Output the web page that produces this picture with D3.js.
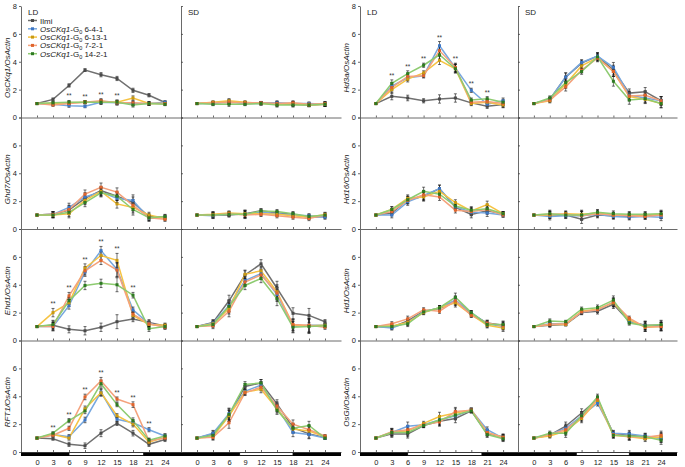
<!DOCTYPE html>
<html>
<head>
<meta charset="utf-8">
<script src="https://cdn.jsdelivr.net/npm/d3@7"></script>
<style>
body { margin: 0; background: #fff; }
svg { font-family: Arial, "Liberation Sans", sans-serif; }
</style>
</head>
<body>
<div id="chart"></div>
<script>
var hours = [0, 3, 6, 9, 12, 15, 18, 21, 24];
var lineNames = ["Ilmi", "6-4-1", "6-13-1", "7-2-1", "14-2-1"];
var lineColors = ["#707070", "#76a7df", "#f6c343", "#f4a27c", "#8dcb70"];
var dotColors = ["#4a4a4a", "#3d76c4", "#c99a12", "#e0642c", "#2e7a22"];
var yTicks = [0, 2, 4, 6, 8];

// relative expression, one row per line: Ilmi, 6-4-1, 6-13-1, 7-2-1, 14-2-1
var osckq1LD = [
    [1, 1.3, 2.3, 3.4, 3.07, 2.8, 1.95, 1.6, 1.08],
    [1, 0.95, 0.85, 0.8, 1.1, 1.05, 1.0, 1.0, 1.1],
    [1, 1.0, 1.05, 1.1, 1.15, 1.1, 1.4, 1.0, 1.0],
    [1, 0.9, 1.0, 1.1, 1.2, 1.05, 1.05, 1.0, 1.0],
    [1, 1.05, 1.1, 1.1, 1.1, 1.1, 0.9, 1.0, 0.95]];
var osckq1SD = [
    [1, 1.05, 1.1, 1.05, 1.05, 1.0, 0.95, 0.9, 0.95],
    [1, 1.0, 1.15, 1.0, 1.0, 1.05, 1.0, 1.0, 0.95],
    [1, 1.1, 1.2, 1.1, 1.0, 0.95, 1.0, 0.9, 0.95],
    [1, 1.05, 1.1, 1.05, 1.05, 1.0, 1.05, 0.95, 1.0],
    [1, 0.95, 0.95, 0.95, 1.0, 0.9, 0.9, 0.9, 0.95]];
var hd3aLD = [
    [1, 1.52, 1.4, 1.2, 1.33, 1.4, 1.05, 0.8, 0.93],
    [1, 2.25, 2.85, 3.0, 5.15, 3.55, 1.95, 0.95, 1.2],
    [1, 2.0, 2.75, 3.2, 4.1, 3.5, 1.0, 1.1, 0.9],
    [1, 2.15, 2.95, 3.0, 4.8, 3.6, 1.1, 1.15, 1.0],
    [1, 2.45, 3.15, 3.75, 4.5, 3.5, 1.25, 1.35, 1.1]];
var hd3aSD = [
    [1, 1.3, 2.9, 3.9, 4.4, 3.4, 1.75, 1.85, 1.2],
    [1, 1.3, 2.9, 3.95, 4.4, 3.6, 1.6, 1.4, 1.2],
    [1, 1.2, 2.4, 3.7, 4.3, 3.3, 1.5, 1.3, 1.0],
    [1, 1.25, 2.2, 3.4, 4.25, 3.3, 1.55, 1.6, 1.2],
    [1, 1.4, 2.5, 3.3, 4.35, 2.6, 1.25, 1.35, 1.0]];
var ghd7LD = [
    [1, 1.05, 1.35, 2.2, 2.75, 2.35, 1.9, 0.9, 0.85],
    [1, 1.05, 1.55, 2.3, 2.65, 2.2, 2.05, 0.75, 0.85],
    [1, 1.0, 1.1, 2.05, 2.7, 1.8, 1.55, 1.0, 0.75],
    [1, 1.05, 1.4, 2.5, 3.0, 2.65, 1.7, 0.8, 0.7],
    [1, 1.0, 1.2, 1.9, 2.6, 2.35, 1.4, 0.8, 0.9]];
var ghd7SD = [
    [1, 1.0, 1.0, 1.1, 1.3, 1.15, 1.05, 0.85, 0.9],
    [1, 0.95, 1.1, 1.05, 1.2, 1.1, 1.0, 0.95, 0.85],
    [1, 1.05, 1.15, 1.1, 1.1, 1.05, 0.95, 0.85, 1.05],
    [1, 1.0, 1.1, 1.0, 1.05, 0.95, 0.85, 0.75, 1.0],
    [1, 1.0, 1.05, 1.05, 1.3, 1.25, 1.1, 0.9, 1.0]];
var hd16LD = [
    [1, 1.15, 2.1, 2.35, 2.9, 1.55, 1.05, 1.3, 1.1],
    [1, 1.0, 1.95, 2.4, 2.9, 1.6, 1.2, 1.15, 1.0],
    [1, 1.4, 2.2, 2.3, 2.7, 1.9, 1.3, 1.75, 1.1],
    [1, 1.25, 2.05, 2.45, 2.3, 1.35, 1.25, 1.4, 1.0],
    [1, 1.4, 2.1, 2.7, 2.5, 1.65, 1.35, 1.45, 1.1]];
var hd16SD = [
    [1, 1.0, 1.0, 0.7, 1.0, 0.95, 0.9, 0.95, 1.0],
    [1, 0.9, 0.95, 0.95, 1.05, 0.9, 0.85, 0.9, 0.85],
    [1, 1.0, 1.1, 1.05, 1.15, 1.0, 1.0, 1.0, 1.05],
    [1, 1.05, 1.05, 0.95, 1.1, 1.0, 0.95, 0.9, 1.0],
    [1, 1.1, 1.0, 1.0, 1.2, 1.1, 1.05, 1.05, 1.1]];
var ehd1LD = [
    [1, 1.1, 0.8, 0.7, 0.95, 1.35, 1.55, 1.3, 1.05],
    [1, 1.0, 2.5, 4.9, 6.45, 5.1, 2.2, 1.2, 1.0],
    [1, 2.0, 2.7, 5.2, 6.1, 5.75, 1.8, 1.15, 1.1],
    [1, 1.0, 3.2, 5.0, 5.75, 5.05, 1.9, 1.2, 0.95],
    [1, 1.15, 2.85, 3.95, 4.1, 4.0, 3.25, 0.85, 1.0]];
var ehd1SD = [
    [1, 1.3, 2.85, 4.7, 5.5, 3.75, 1.95, 1.8, 1.35],
    [1, 1.25, 2.5, 4.3, 4.8, 3.3, 1.0, 1.1, 1.1],
    [1, 1.2, 2.3, 4.75, 5.0, 3.5, 1.1, 1.05, 1.1],
    [1, 1.05, 2.1, 4.2, 4.7, 3.4, 1.15, 1.1, 0.95],
    [1, 1.15, 2.45, 3.95, 4.45, 3.0, 0.95, 1.0, 1.05]];
var hd1LD = [
    [1, 0.95, 1.4, 2.1, 2.3, 2.8, 1.9, 1.25, 1.1],
    [1, 0.9, 1.3, 2.05, 2.35, 2.9, 2.0, 1.2, 1.0],
    [1, 1.05, 1.3, 2.0, 2.35, 2.7, 1.85, 1.1, 0.9],
    [1, 1.2, 1.55, 2.2, 2.1, 2.85, 1.8, 1.25, 1.05],
    [1, 1.0, 1.2, 2.05, 2.35, 3.1, 2.0, 1.15, 1.15]];
var hd1SD = [
    [1, 1.1, 1.15, 2.0, 2.1, 2.6, 1.35, 1.1, 1.1],
    [1, 1.2, 1.2, 2.05, 2.2, 2.75, 1.4, 1.05, 1.0],
    [1, 1.15, 1.15, 2.1, 2.25, 2.7, 1.5, 0.95, 1.0],
    [1, 1.15, 1.2, 2.05, 2.2, 2.75, 1.6, 0.95, 1.0],
    [1, 1.4, 1.35, 2.25, 2.35, 2.9, 1.25, 1.05, 1.15]];
var rft1LD = [
    [1, 0.95, 0.55, 0.45, 1.35, 2.05, 1.35, 0.55, 0.9],
    [1, 1.25, 1.1, 2.3, 4.3, 2.35, 2.1, 1.6, 1.15],
    [1, 1.25, 1.0, 3.1, 4.25, 2.6, 2.0, 0.7, 1.05],
    [1, 1.2, 1.7, 3.95, 5.1, 3.8, 3.4, 0.8, 1.0],
    [1, 1.35, 2.25, 2.95, 4.9, 3.4, 2.25, 0.85, 1.15]];
var rft1SD = [
    [1, 1.3, 2.6, 4.7, 4.95, 3.45, 1.75, 1.3, 1.05],
    [1, 1.35, 2.75, 4.35, 4.8, 3.2, 1.4, 1.25, 1.0],
    [1, 1.1, 2.6, 4.3, 4.5, 3.1, 1.65, 1.5, 1.1],
    [1, 1.05, 2.1, 4.25, 4.65, 3.3, 2.0, 1.6, 1.15],
    [1, 1.2, 2.7, 4.85, 4.95, 3.0, 1.7, 1.9, 1.0]];
var osgiLD = [
    [1, 1.3, 1.3, 1.9, 2.2, 2.4, 2.95, 1.3, 1.1],
    [1, 1.4, 1.85, 1.95, 2.3, 2.6, 3.0, 1.6, 1.0],
    [1, 1.4, 1.5, 2.05, 2.55, 2.8, 3.0, 1.4, 1.05],
    [1, 1.45, 1.6, 1.95, 2.15, 2.9, 3.0, 1.4, 1.05],
    [1, 1.4, 1.4, 1.9, 2.3, 2.65, 2.95, 1.25, 0.95]];
var osgiSD = [
    [1, 1.2, 1.85, 2.8, 3.8, 1.3, 1.2, 1.1, 1.0],
    [1, 1.25, 1.7, 2.6, 3.5, 1.35, 1.3, 1.15, 1.0],
    [1, 1.15, 1.5, 2.4, 3.7, 1.2, 1.1, 0.95, 1.1],
    [1, 1.25, 1.6, 2.5, 3.8, 1.25, 1.1, 1.05, 1.2],
    [1, 1.35, 1.35, 2.6, 3.95, 1.2, 1.15, 1.1, 0.85]];

// standard error per time point
var osckq1LDErr = [0.05, 0.1, 0.12, 0.1, 0.15, 0.15, 0.15, 0.12, 0.1];
var osckq1SDErr = [0.05, 0.1, 0.15, 0.1, 0.1, 0.15, 0.15, 0.12, 0.15];
var hd3aLDErr = [0.05, 0.25, 0.2, 0.15, 0.3, 0.3, 0.15, 0.15, 0.2];
var hd3aSDErr = [0.05, 0.15, 0.3, 0.2, 0.25, 0.35, 0.3, 0.3, 0.3];
var ghd7LDErr = [0.05, 0.2, 0.3, 0.3, 0.3, 0.3, 0.4, 0.2, 0.15];
var ghd7SDErr = [0.05, 0.2, 0.15, 0.25, 0.15, 0.15, 0.15, 0.15, 0.15];
var hd16LDErr = [0.05, 0.2, 0.25, 0.3, 0.25, 0.2, 0.25, 0.25, 0.15];
var hd16SDErr = [0.05, 0.25, 0.2, 0.3, 0.2, 0.2, 0.2, 0.2, 0.25];
var ehd1LDErr = [0.05, 0.3, 0.25, 0.3, 0.3, 0.5, 0.2, 0.2, 0.15];
var ehd1SDErr = [0.05, 0.2, 0.4, 0.3, 0.3, 0.5, 0.4, 0.5, 0.15];
var hd1LDErr = [0.05, 0.15, 0.2, 0.15, 0.15, 0.3, 0.15, 0.2, 0.25];
var hd1SDErr = [0.05, 0.15, 0.1, 0.15, 0.2, 0.3, 0.15, 0.3, 0.3];
var rft1LDErr = [0.05, 0.1, 0.15, 0.2, 0.25, 0.15, 0.2, 0.15, 0.15];
var rft1SDErr = [0.05, 0.2, 0.4, 0.2, 0.25, 0.3, 0.3, 0.3, 0.1];
var osgiLDErr = [0.05, 0.25, 0.3, 0.15, 0.3, 0.3, 0.15, 0.2, 0.2];
var osgiSDErr = [0.05, 0.15, 0.3, 0.3, 0.2, 0.2, 0.25, 0.2, 0.3];

// time points marked ** (transgenic vs Ilmi)
var osckq1Stars = [6, 9, 12, 15];
var hd3aStars = [3, 6, 9, 12, 15, 18, 21];
var ehd1Stars = [3, 6, 9, 12, 15, 18];
var rft1Stars = [3, 6, 9, 12, 15, 18, 21];

// light period (h) for the bottom bar
var lightLD = [6, 20];
var lightSD = [8, 18];

var W = 685, H = 467;
var top0 = 6, rowH = 111.5;
var groups = [
    {ld: 21, sd: 181, w: 160, labelX: 7},
    {ld: 360, sd: 518, w: 159, labelX: 346}
];

var panels = [
    {gene: "OsCKq1", g: 0, row: 0, ld: osckq1LD, sd: osckq1SD, ldErr: osckq1LDErr, sdErr: osckq1SDErr, stars: osckq1Stars},
    {gene: "Ghd7", g: 0, row: 1, ld: ghd7LD, sd: ghd7SD, ldErr: ghd7LDErr, sdErr: ghd7SDErr, stars: []},
    {gene: "Ehd1", g: 0, row: 2, ld: ehd1LD, sd: ehd1SD, ldErr: ehd1LDErr, sdErr: ehd1SDErr, stars: ehd1Stars},
    {gene: "RFT1", g: 0, row: 3, ld: rft1LD, sd: rft1SD, ldErr: rft1LDErr, sdErr: rft1SDErr, stars: rft1Stars},
    {gene: "Hd3a", g: 1, row: 0, ld: hd3aLD, sd: hd3aSD, ldErr: hd3aLDErr, sdErr: hd3aSDErr, stars: hd3aStars},
    {gene: "Hd16", g: 1, row: 1, ld: hd16LD, sd: hd16SD, ldErr: hd16LDErr, sdErr: hd16SDErr, stars: []},
    {gene: "Hd1", g: 1, row: 2, ld: hd1LD, sd: hd1SD, ldErr: hd1LDErr, sdErr: hd1SDErr, stars: []},
    {gene: "OsGI", g: 1, row: 3, ld: osgiLD, sd: osgiSD, ldErr: osgiLDErr, sdErr: osgiSDErr, stars: []}
];

var svg = d3.select("#chart").append("svg")
    .attr("width", W)
    .attr("height", H);

function drawPanel(p, isLD) {
    var grp = groups[p.g];
    var x0 = isLD ? grp.ld : grp.sd;
    var zero = top0 + (p.row + 1) * rowH;
    var data = isLD ? p.ld : p.sd;
    var err = isLD ? p.ldErr : p.sdErr;
    var bottom = p.row === 3;

    var x = d3.scaleLinear().domain([-3, 27]).range([x0, x0 + grp.w]);
    var y = d3.scaleLinear().domain([0, 8]).range([zero, zero - rowH]);
    var g = svg.append("g");

    if (bottom) {
        var light = isLD ? lightLD : lightSD;
        g.append("rect")
            .attr("x", x0).attr("y", zero)
            .attr("width", grp.w).attr("height", 4)
            .attr("fill", "#000");
        g.append("rect")
            .attr("x", x(light[0])).attr("y", zero + 0.5)
            .attr("width", x(light[1]) - x(light[0])).attr("height", 3)
            .attr("fill", "#fff").attr("stroke", "#000").attr("stroke-width", 0.8);
        g.append("g")
            .attr("transform", "translate(0," + (zero + 4) + ")")
            .call(d3.axisBottom(x).tickValues(hours).tickSize(0).tickPadding(4))
            .call(function (s) { s.select(".domain").remove(); })
            .selectAll("text").attr("font-size", 7.5).attr("fill", "#222");
    }

    var xa = g.append("g")
        .attr("transform", "translate(0," + zero + ")")
        .call(d3.axisTop(x).tickValues(hours).tickSize(2).tickSizeOuter(0).tickFormat(""));
    xa.selectAll("path, line").attr("stroke", "#444").attr("stroke-width", 0.8);

    var ya;
    if (isLD) {
        // the top "8" is only labelled in the first row, lower rows share the line with the "0" above
        ya = g.append("g")
            .attr("transform", "translate(" + x0 + ",0)")
            .call(d3.axisLeft(y).tickValues(yTicks).tickSize(2).tickSizeOuter(0).tickPadding(2)
                .tickFormat(function (d) { return (d === 8 && p.row > 0) ? "" : d; }));
        ya.selectAll("text").attr("font-size", 7.5).attr("fill", "#222");
    } else {
        ya = g.append("g")
            .attr("transform", "translate(" + x0 + ",0)")
            .call(d3.axisRight(y).tickValues(yTicks).tickSize(2).tickSizeOuter(0).tickFormat(""));
    }
    ya.selectAll("path, line").attr("stroke", "#444").attr("stroke-width", 0.8);

    var line = d3.line()
        .x(function (d, i) { return x(hours[i]); })
        .y(function (d) { return y(d); });

    data.forEach(function (vals, k) {
        g.append("path")
            .attr("d", line(vals))
            .attr("fill", "none")
            .attr("stroke", lineColors[k])
            .attr("stroke-width", 1.5);
    });

    data.forEach(function (vals, k) {
        var eb = g.append("g").attr("stroke", "#111").attr("stroke-width", 0.6);
        vals.forEach(function (v, i) {
            if (i === 0) return;
            var cx = x(hours[i]);
            eb.append("line").attr("x1", cx).attr("x2", cx)
                .attr("y1", y(v - err[i])).attr("y2", y(v + err[i]));
            eb.append("line").attr("x1", cx - 1.5).attr("x2", cx + 1.5)
                .attr("y1", y(v + err[i])).attr("y2", y(v + err[i]));
            eb.append("line").attr("x1", cx - 1.5).attr("x2", cx + 1.5)
                .attr("y1", y(v - err[i])).attr("y2", y(v - err[i]));
        });
    });

    data.forEach(function (vals, k) {
        g.selectAll(null)
            .data(vals)
            .enter()
            .append("rect")
            .attr("x", function (d, i) { return x(hours[i]) - 1.5; })
            .attr("y", function (d) { return y(d) - 1.5; })
            .attr("width", 3)
            .attr("height", 3)
            .attr("fill", dotColors[k]);
    });

    if (isLD) {
        p.stars.forEach(function (t) {
            var i = hours.indexOf(t);
            var top = d3.max(data.slice(1), function (vals) { return vals[i]; }) + err[i];
            g.append("text")
                .attr("x", x(t))
                .attr("y", y(top) - 2)
                .attr("text-anchor", "middle")
                .attr("font-size", 6.5)
                .attr("fill", "#333")
                .text("**");
        });
    }

    if (p.row === 0) {
        g.append("text")
            .attr("x", x0 + 7)
            .attr("y", zero - rowH + 9)
            .attr("font-size", 8)
            .attr("fill", "#222")
            .text(isLD ? "LD" : "SD");
    }
}

panels.forEach(function (p) {
    drawPanel(p, true);
    drawPanel(p, false);
    var cy = top0 + p.row * rowH + rowH / 2 + 6;
    svg.append("text")
        .attr("transform", "translate(" + (groups[p.g].labelX + 3) + "," + cy + ") rotate(-90)")
        .attr("text-anchor", "middle")
        .attr("font-size", 8)
        .attr("font-style", "italic")
        .attr("fill", "#222")
        .text(p.gene + "/OsActin");
});

// legend
var legend = svg.append("g").attr("transform", "translate(28,20.5)");
lineNames.forEach(function (name, k) {
    var row = legend.append("g").attr("transform", "translate(0," + (k * 8.3) + ")");
    row.append("line").attr("x1", 0).attr("x2", 9).attr("y1", 0).attr("y2", 0)
        .attr("stroke", lineColors[k]).attr("stroke-width", 1.5);
    row.append("rect").attr("x", 3).attr("y", -1.5).attr("width", 3).attr("height", 3)
        .attr("fill", dotColors[k]);
    var t = row.append("text").attr("x", 12).attr("y", 3).attr("font-size", 8).attr("fill", "#222");
    if (k === 0) {
        t.text(name);
    } else {
        t.append("tspan").attr("font-style", "italic").text("OsCKq1");
        t.append("tspan").text("-G");
        t.append("tspan").attr("font-size", 5.5).attr("dy", 2).text("0");
        t.append("tspan").attr("dy", -2).text(" " + name);
    }
});
</script>
</body>
</html>
